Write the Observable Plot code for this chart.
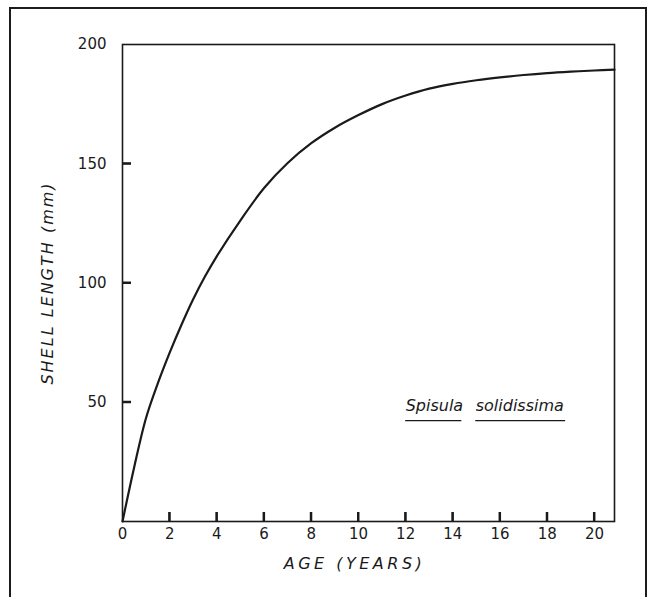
<!DOCTYPE html>
<html>
<head>
<meta charset="utf-8">
<script src="https://cdn.jsdelivr.net/npm/d3@7"></script>
<script src="https://cdn.jsdelivr.net/npm/@observablehq/plot@0.6"></script>
<style>
  html, body { margin: 0; padding: 0; background: #fff; overflow: hidden; }
  #wrap { position: relative; width: 649px; height: 597px; overflow: hidden; background: #fff; }
  #border { position: absolute; left: 9px; top: 7px; width: 638px; height: 620px;
            border: 2px solid #1c1c1c; box-sizing: border-box; }
  #chart { position: absolute; left: 0; top: 0; }
</style>
</head>
<body>
<div id="wrap"><div id="border"></div><div id="chart"></div></div>
<script>
// Age (years) and shell length (mm)
const ages    = [0, 0.5, 1, 1.5, 2, 2.5, 3, 3.5, 4, 5, 6, 7, 8, 9, 10, 11, 12, 13, 14, 15, 16, 17, 18, 19, 20, 20.85];
const lengths = [0, 23, 43.5, 58, 70.8, 82.5, 93.3, 102.8, 111.3, 126.3, 139.8, 150.3, 158.6, 165.1, 170.4, 175, 178.6, 181.5, 183.5, 185, 186.2, 187.2, 188, 188.6, 189.1, 189.45];

// Tick values and labels
const xTickLabels = [0, 2, 4, 6, 8, 10, 12, 14, 16, 18, 20];
const xTickMarks  = [2, 4, 6, 8, 10, 12, 14, 16, 18, 20];
const yTickLabels = [50, 100, 150, 200];
const yTickMarks  = [50, 100, 150];

// Titles and annotation
const xTitle = ["AGE (YEARS)"];
const yTitle = ["SHELL LENGTH (mm)"];
const speciesWords = ["Spisula", "solidissima"];
const speciesX     = [12.0, 14.97];      // start of each word (years)
const speciesXEnd  = [14.38, 18.78];     // end of each underline (years)
const speciesY     = [46.5, 46.5];       // baseline level (mm)

const curve = ages.map((a, i) => ({age: a, length: lengths[i]}));
const species = speciesWords.map((w, i) => ({word: w, x: speciesX[i], x2: speciesXEnd[i], y: speciesY[i]}));

const ink = "#1a1a1a";
const W = 649, H = 597, mL = 122, mR = 35, mT = 44, mB = 76;
const xDomain = [0, 20.85], yDomain = [0, 200];
const tickLen = 9;  // px
const frameW = W - mL - mR, frameH = H - mT - mB;
// tick length expressed in data units of each scale
const xTickUnits = tickLen / frameW * (xDomain[1] - xDomain[0]);
const yTickUnits = tickLen / frameH * (yDomain[1] - yDomain[0]);
const xTickRows = xTickMarks.map(v => ({x: v, y1: yDomain[0], y2: yDomain[0] + yTickUnits}));
const yTickRows = yTickMarks.map(v => ({y: v, x1: xDomain[0], x2: xDomain[0] + xTickUnits}));

const chart = Plot.plot({
  width: W,
  height: H,
  marginLeft: mL,
  marginRight: mR,
  marginTop: mT,
  marginBottom: mB,
  style: {fontFamily: "DejaVu Sans", fontSize: "15px", color: ink, background: "transparent"},
  x: {domain: xDomain, label: null},
  y: {domain: yDomain, label: null},
  marks: [
    // inward tick marks
    Plot.ruleX(xTickRows, {x: "x", y1: "y1", y2: "y2", stroke: ink, strokeWidth: 2}),
    Plot.ruleY(yTickRows, {y: "y", x1: "x1", x2: "x2", stroke: ink, strokeWidth: 2}),
    Plot.frame({stroke: ink, strokeWidth: 1.6}),
    // tick labels
    Plot.axisX(xTickLabels, {anchor: "bottom", tickSize: 0, tickPadding: 7, fill: ink, label: null}),
    Plot.axisY(yTickLabels, {anchor: "left", tickSize: 0, tickPadding: 16, fill: ink, label: null}),
    Plot.line(curve, {x: "age", y: "length", curve: "catmull-rom", stroke: ink, strokeWidth: 2.2}),
    Plot.text(xTitle, {frameAnchor: "bottom", dx: -14, dy: 42, fontSize: 16, fontStyle: "italic",
                       fill: ink, lineAnchor: "middle", textAnchor: "middle"}),
    Plot.text(yTitle, {frameAnchor: "left", dx: -75, rotate: -90, fontSize: 16, fontStyle: "italic",
                       fill: ink, lineAnchor: "middle", textAnchor: "middle"}),
    Plot.text(species, {x: "x", y: "y", text: "word", textAnchor: "start", lineAnchor: "bottom",
                        fontSize: 16, fontStyle: "italic", fill: ink}),
    Plot.ruleY(species, {y: "y", x1: "x", x2: "x2", dy: 10, stroke: ink, strokeWidth: 1.4})
  ]
});

document.getElementById("chart").appendChild(chart);

// ensure the inward ticks are present, placed through Plot's own scales
const sx = chart.scale("x"), sy = chart.scale("y");
const tickLayer = d3.select(chart).append("g").attr("stroke", ink).attr("stroke-width", 2);
xTickMarks.forEach(v => {
  const px = sx.apply(v), py = sy.apply(yDomain[0]);
  tickLayer.append("line").attr("x1", px).attr("x2", px).attr("y1", py).attr("y2", py - tickLen);
});
yTickMarks.forEach(v => {
  const px = sx.apply(xDomain[0]), py = sy.apply(v);
  tickLayer.append("line").attr("x1", px).attr("x2", px + tickLen).attr("y1", py).attr("y2", py);
});

// widen the letter spacing of the two axis titles, as in the lettering of the original
d3.select(chart).selectAll("text")
  .filter(function () { return this.textContent === yTitle[0]; })
  .style("letter-spacing", "2px");
d3.select(chart).selectAll("text")
  .filter(function () { return this.textContent === xTitle[0]; })
  .style("letter-spacing", "3.5px");
</script>
</body>
</html>
